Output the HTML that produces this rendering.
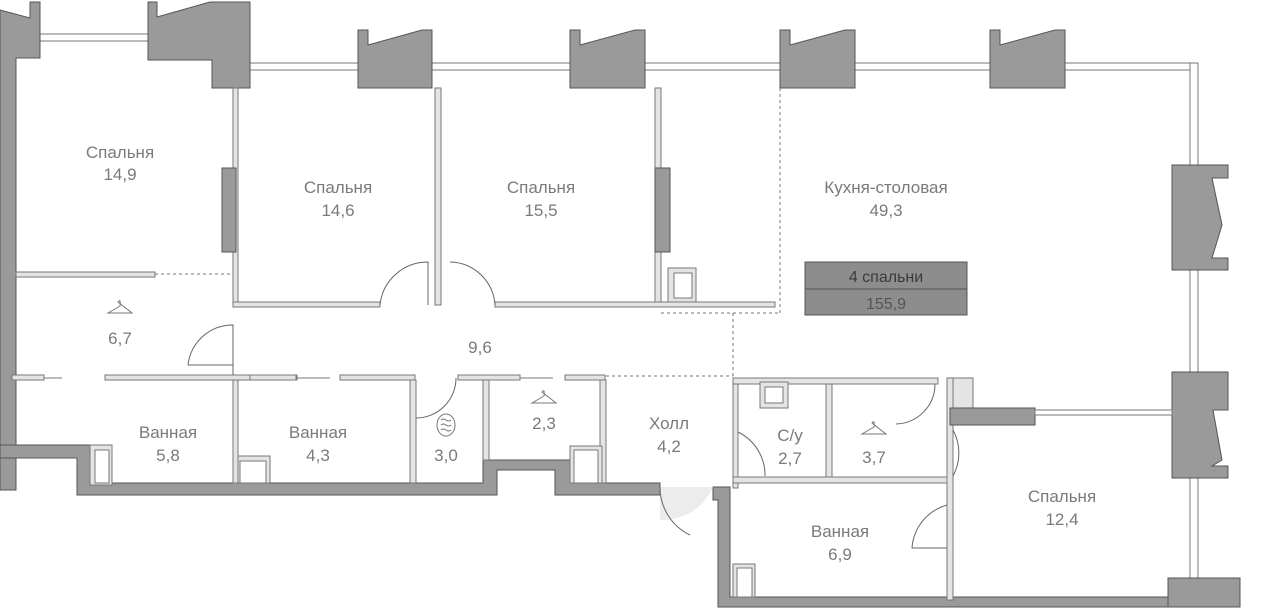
<!DOCTYPE html>
<html><head><meta charset="utf-8"><style>
body{margin:0;background:#fff}
svg{display:block}
text{font-family:"Liberation Sans",sans-serif;font-size:17px;fill:#7a7a7a;text-anchor:middle}
.d{fill:#9a9a9a;stroke:#555;stroke-width:1}
.p{fill:#e4e4e4;stroke:#777;stroke-width:1}
.w{fill:#fff;stroke:#777;stroke-width:1}
.dot{stroke:#777;stroke-width:1;stroke-dasharray:3 3;fill:none}
.arc{fill:none;stroke:#666;stroke-width:1}
</style></head><body>
<svg width="1262" height="610" viewBox="0 0 1262 610">
<rect class="w" x="38" y="34" width="112" height="7"/>
<rect class="w" x="250" y="63" width="110" height="7"/>
<rect class="w" x="432" y="63" width="140" height="7"/>
<rect class="w" x="645" y="63" width="137" height="7"/>
<rect class="w" x="855" y="63" width="137" height="7"/>
<rect class="w" x="1065" y="63" width="132" height="7"/>
<rect class="w" x="1190" y="63" width="8" height="530"/>
<path class="d" d="M0,10 L30,18 L30,2 L40,2 L40,58 L16,58 L16,490 L0,490 Z"/>
<path class="d" d="M148,2 L157,2 L157,17 L210,2 L250,2 L250,88 L212,88 L212,60 L148,60 Z"/>
<path class="d" d="M358,30 L368,30 L368,45 L422,30 L432,30 L432,88 L358,88 Z"/>
<path class="d" d="M570,30 L580,30 L580,45 L635,30 L645,30 L645,88 L570,88 Z"/>
<path class="d" d="M780,30 L790,30 L790,45 L845,30 L855,30 L855,88 L780,88 Z"/>
<path class="d" d="M990,30 L1000,30 L1000,45 L1055,30 L1065,30 L1065,88 L990,88 Z"/>
<path class="d" d="M1172,165 L1228,165 L1228,178 L1212,178 L1222,225 L1212,258 L1228,258 L1228,270 L1172,270 Z"/>
<path class="d" d="M1172,372 L1228,372 L1228,410 L1213,410 L1222,460 L1212,466 L1228,466 L1228,478 L1172,478 Z"/>
<path class="d" d="M1168,578 L1240,578 L1240,607 L1168,607 Z"/>
<path class="d" d="M0,445 L90,445 L90,483 L483,483 L483,460 L570,460 L570,483 L660,483 L660,495 L555,495 L555,470 L497,470 L497,495 L77,495 L77,458 L0,458 Z"/>
<path class="d" d="M713,487 L730,487 L730,597 L1168,597 L1168,607 L718,607 L718,500 L713,500 Z"/>
<rect class="p" x="233" y="88" width="5" height="217"/>
<rect class="d" x="222" y="168" width="14" height="84"/>
<rect class="p" x="435" y="88" width="6" height="217"/>
<rect class="p" x="655" y="88" width="6" height="217"/>
<rect class="d" x="655" y="168" width="15" height="84"/>
<rect class="p" x="16" y="272" width="139" height="5"/>
<rect class="p" x="233" y="302" width="147" height="5"/>
<rect class="p" x="495" y="302" width="280" height="5"/>
<rect class="p" x="668" y="268" width="28" height="34"/>
<rect class="w" x="674" y="273" width="18" height="25"/>
<rect class="p" x="12" y="375" width="32" height="5"/>
<rect class="p" x="105" y="375" width="192" height="5"/>
<rect class="p" x="250" y="375" width="46" height="5"/>
<rect class="p" x="340" y="375" width="75" height="5"/>
<rect class="p" x="458" y="375" width="62" height="5"/>
<rect class="p" x="565" y="375" width="40" height="5"/>
<line x1="44" y1="378" x2="62" y2="378" stroke="#777"/>
<line x1="296" y1="378" x2="330" y2="378" stroke="#777"/>
<line x1="520" y1="378" x2="553" y2="378" stroke="#777"/>
<rect class="p" x="233" y="380" width="5" height="103"/>
<rect class="p" x="410" y="380" width="6" height="103"/>
<rect class="p" x="483" y="380" width="6" height="80"/>
<rect class="p" x="600" y="380" width="6" height="103"/>
<rect class="p" x="733" y="378" width="205" height="6"/>
<rect class="p" x="733" y="384" width="5" height="104"/>
<rect class="p" x="826" y="384" width="6" height="96"/>
<rect class="p" x="733" y="477" width="220" height="6"/>
<rect class="p" x="947" y="378" width="6" height="222"/>
<rect class="p" x="760" y="382" width="28" height="26"/>
<rect class="w" x="765" y="387" width="18" height="16"/>
<rect class="p" x="953" y="378" width="20" height="30"/>
<rect class="d" x="950" y="408" width="85" height="17"/>
<rect class="w" x="1035" y="410" width="137" height="5"/>
<rect class="p" x="90" y="445" width="22" height="40"/>
<rect class="w" x="95" y="450" width="14" height="33"/>
<rect class="p" x="238" y="456" width="32" height="27"/>
<rect class="w" x="240" y="461" width="26" height="22"/>
<rect class="p" x="570" y="446" width="32" height="37"/>
<rect class="w" x="574" y="450" width="24" height="33"/>
<rect class="p" x="733" y="564" width="22" height="33"/>
<rect class="w" x="737" y="568" width="15" height="29"/>
<path class="arc" d="M380,305 A48,48 0 0 1 428,262 L428,305"/>
<path class="arc" d="M450,262 A46,46 0 0 1 495,305"/>
<path class="arc" d="M188,365 A45,45 0 0 1 233,325 L233,375 M188,365 L233,365"/>
<path class="arc" d="M416,418 A40,40 0 0 0 456,378"/>
<path d="M660,487 L660,520 A55,55 0 0 0 713,487 Z" fill="#ececec"/>
<path class="arc" d="M660,487 A53,53 0 0 0 690,535"/>
<path class="arc" d="M738,432 A48,48 0 0 1 765,476"/>
<path class="arc" d="M896,424 A40,40 0 0 0 935,384"/>
<path class="arc" d="M953,430 A48,48 0 0 1 953,476"/>
<path class="arc" d="M947,505 A48,48 0 0 0 912,548 L947,548"/>
<line class="dot" x1="155" y1="274" x2="233" y2="274"/>
<line class="dot" x1="780" y1="88" x2="780" y2="313"/>
<line class="dot" x1="661" y1="313" x2="780" y2="313"/>
<line class="dot" x1="733" y1="313" x2="733" y2="378"/>
<line class="dot" x1="606" y1="376" x2="733" y2="376"/>
<rect x="805" y="262" width="162" height="53" fill="#8d8d8d" stroke="#555"/>
<line x1="805" y1="289" x2="967" y2="289" stroke="#555"/>
<text x="886" y="282" style="fill:#3a3a3a;font-size:16px">4 спальни</text>
<text x="886" y="309" style="fill:#555;font-size:16px">155,9</text>
<g fill="none" stroke="#777" stroke-width="1">
<path d="M118,302 q3,-4 2,4 l-12,7 h24 z"/>
<path d="M542,392 q3,-4 2,4 l-12,7 h24 z"/>
<path d="M872,423 q3,-4 2,4 l-12,7 h24 z"/>
<ellipse cx="446" cy="425" rx="9" ry="11"/>
<path d="M441,420 q2,-2 5,0 t5,0 M441,425 q2,-2 5,0 t5,0 M441,430 q2,-2 5,0 t5,0"/>
</g>
<text x="120" y="158">Спальня</text><text x="120" y="180">14,9</text>
<text x="338" y="193">Спальня</text><text x="338" y="216">14,6</text>
<text x="541" y="193">Спальня</text><text x="541" y="216">15,5</text>
<text x="886" y="193">Кухня-столовая</text><text x="886" y="216">49,3</text>
<text x="120" y="344">6,7</text>
<text x="480" y="353">9,6</text>
<text x="168" y="438">Ванная</text><text x="168" y="461">5,8</text>
<text x="318" y="438">Ванная</text><text x="318" y="461">4,3</text>
<text x="446" y="461">3,0</text>
<text x="544" y="429">2,3</text>
<text x="669" y="429">Холл</text><text x="669" y="452">4,2</text>
<text x="790" y="441">С/у</text><text x="790" y="464">2,7</text>
<text x="874" y="463">3,7</text>
<text x="840" y="537">Ванная</text><text x="840" y="560">6,9</text>
<text x="1062" y="502">Спальня</text><text x="1062" y="525">12,4</text>
</svg>
</body></html>
